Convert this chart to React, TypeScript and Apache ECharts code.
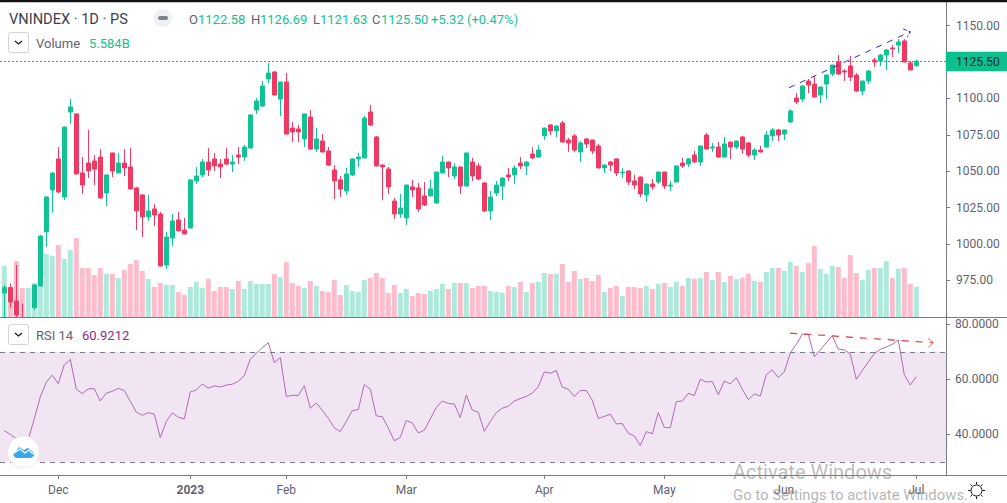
import React, { useEffect, useRef } from "react";
import * as echarts from "echarts";

const opens = [966.4,970.1,960.9,949,943,956.3,971.2,1008.3,1037.1,1058.4,
1032.3,1090.6,1089.3,1048.8,1055.6,1057.0,1059.7,1035.0,1062.5,1048.8,
1055.6,1052.9,1038.5,1033.7,1018.6,1024.1,1020.6,985.6,1004.1,1016.5,
1009.6,1011.0,1043.3,1047.4,1056.3,1058.4,1054.9,1058.4,1054.9,1061.1,
1059.7,1065.9,1092.0,1094.7,1113.3,1118.1,1099.5,1111.2,1079.6,1079.0,
1072.1,1087.2,1065.2,1070.7,1063.9,1050.8,1044.0,1036.4,1047.4,1058.4,
1059.1,1090.6,1073.5,1054.2,1051.5,1029.5,1020.6,1017.9,1039.2,1038.5,
1033.0,1033.0,1028.2,1048.8,1056.3,1046.7,1052.9,1039.8,1056.3,1053.6,
1041.9,1022.7,1035.0,1039.8,1047.4,1047.4,1055.6,1053.6,1061.8,1059.7,
1074.2,1081.7,1077.6,1083.1,1071.4,1074.2,1063.2,1072.1,1071.4,1067.3,
1052.2,1056.3,1058.4,1048.8,1050.1,1043.3,1046.0,1033.7,1041.2,1042.6,
1049.4,1039.8,1042.6,1055.6,1054.9,1061.1,1056.3,1074.8,1065.9,1066.6,
1059.7,1070.0,1066.6,1073.5,1069.4,1061.1,1064.5,1066.6,1074.2,1078.3,
1075.5,1083.8,1100.2,1099.5,1111.9,1109.8,1102.3,1109.8,1116.7,1124.9,
1118.8,1122.2,1116.0,1105.0,1111.9,1126.3,1125.6,1129.7,1134.6,1136.6,
1139.4,1124.3,1122.58];
const closes = [970.1,960.2,951.3,945,946,971.9,1005.5,1032.3,1048.8,1035.7,
1080.3,1094.1,1048.1,1040.5,1050.1,1051.5,1031.6,1047.4,1050.1,1055.6,
1052.2,1037.8,1022.7,1018.6,1022.7,1019.9,984.9,1004.8,1015.8,1009.0,
1006.9,1044.0,1046.7,1056.3,1050.8,1053.6,1052.9,1054.9,1056.3,1059.7,
1066.6,1088.6,1098.2,1108.5,1117.4,1102.3,1111.2,1075.5,1076.9,1076.9,
1089.3,1065.2,1072.1,1063.2,1054.2,1043.3,1037.8,1048.1,1058.4,1059.7,
1086.5,1081.7,1053.6,1052.9,1039.2,1020.6,1024.7,1040.5,1037.1,1024.1,
1026.8,1037.8,1049.4,1056.3,1052.2,1052.9,1039.8,1062.5,1046.7,1044.6,
1022.7,1032.3,1040.5,1045.3,1046.0,1052.2,1053.6,1056.3,1059.1,1064.5,
1079.6,1077.6,1081.0,1070.0,1069.4,1064.5,1069.4,1068.7,1063.9,1052.2,
1054.2,1054.2,1048.8,1049.4,1042.6,1040.5,1034.4,1041.2,1039.2,1049.4,
1039.8,1040.5,1053.6,1053.6,1058.4,1056.3,1067.3,1065.2,1066.6,1059.7,
1068.7,1066.6,1070.7,1065.2,1061.1,1064.5,1063.2,1074.8,1078.3,1074.8,
1078.3,1091.3,1097.5,1108.5,1109.2,1100.9,1107.8,1116.0,1122.9,1116.7,
1118.1,1114.6,1105.0,1111.9,1118.8,1124.9,1129.7,1133.2,1133.9,1138.7,
1124.9,1119.5,1125.50];
const highs = [971.9,973.0,985.6,958.9,949,972.4,1006.2,1032.7,1049.2,1066.6,
1080.6,1099.5,1089.7,1059.7,1078.3,1061.1,1065.2,1047.7,1062.8,1062.5,
1065.2,1065.9,1039.2,1034,1033.7,1027.5,1022.0,1008.3,1020.6,1022.0,
1017.9,1044.3,1052.9,1058.4,1065.9,1062.5,1058.4,1065.9,1061.1,1066.6,
1068.0,1088.9,1100.2,1111.9,1124.3,1118.8,1111.5,1117.4,1083.8,1081.7,
1089.6,1092.0,1079.6,1075.5,1066.6,1054.2,1046.7,1052.2,1058.7,1062.5,
1087.9,1095.4,1074.2,1054.9,1052.9,1031.6,1034.4,1040.8,1044.0,1041.9,
1042.6,1044.0,1049.7,1060.4,1056.6,1055.6,1053.2,1062.8,1059.1,1055.6,
1042.6,1036.4,1043.3,1045.6,1052.2,1054.2,1059.7,1056.6,1066.6,1068.0,
1079.9,1082.4,1081.3,1084.5,1072.8,1075.5,1070.7,1072.8,1071.7,1068.7,
1054.9,1057.0,1058.7,1052.2,1050.8,1047.4,1046.3,1041.5,1044.6,1049.7,
1049.7,1043.3,1053.9,1059.1,1059.1,1063.9,1067.6,1076.2,1069.4,1070.0,
1073.5,1070.3,1071.0,1074.2,1070.0,1065.9,1067.3,1077.6,1079.6,1079.0,
1078.6,1092.7,1103.7,1108.8,1113.3,1115.3,1108.1,1116.3,1123.2,1129.7,
1120.1,1129.1,1117.4,1112.2,1119.1,1127.7,1130.4,1133.9,1136.6,1140.7,
1140.7,1125.6,1126.69];
const lows = [945,956.3,948,942,941,954.7,970.9,998.2,1021.5,1035.0,
1030.2,1082.4,1047.8,1034.4,1045.3,1040.5,1031.3,1026.1,1046.0,1048.5,
1046.7,1037.5,1009.6,1004.8,1015.8,1012.4,984.6,982.9,998.7,1008.7,
1006.6,1010.7,1041.2,1046.0,1046.7,1050.1,1045.3,1054.2,1049.4,1054.9,
1057.0,1065.6,1089.3,1094.1,1110.5,1102.0,1087.9,1075.2,1070.0,1070.0,
1066.6,1064.5,1063.2,1062.9,1053.6,1030.9,1032.3,1033.7,1046.7,1052.9,
1058.8,1081.0,1053.3,1030.2,1034.4,1017.2,1017.9,1013.1,1032.3,1022.0,
1026.1,1032.7,1027.5,1048.5,1046.0,1044.6,1034.4,1039.5,1043.3,1044.0,
1022.0,1016.5,1033.0,1030.2,1043.3,1041.2,1051.5,1047.4,1058.4,1059.1,
1071.4,1074.8,1073.5,1069.7,1063.2,1063.2,1056.3,1065.9,1061.8,1051.9,
1048.8,1050.1,1046.7,1045.3,1040.5,1037.8,1032.3,1028.9,1037.1,1041.2,
1037.8,1036.4,1042.3,1052.2,1052.9,1056.0,1053.6,1064.9,1063.2,1059.4,
1059.4,1058.4,1065.2,1061.8,1059.7,1057.7,1062.9,1066.3,1070.7,1070.7,
1071.4,1083.1,1096.1,1097.5,1103.7,1100.6,1096.8,1099.5,1115.3,1116.4,
1111.9,1111.9,1104.4,1102.3,1109.8,1121.5,1122.2,1119.5,1128.4,1131.1,
1124.6,1119.2,1121.63];
const volumes = [9.38,5.33,10.3,5.33,5.33,6.25,5.7,11.59,11.22,13.24,
10.67,12.32,14.53,9.01,9.01,7.72,9.01,7.91,7.91,7.17,
8.64,9.75,10.48,8.46,6.99,5.52,6.25,5.88,5.88,4.6,
4.05,5.52,6.44,5.33,6.99,4.78,5.52,5.52,5.15,6.62,
5.15,6.62,6.07,6.07,6.07,7.91,7.36,10.11,6.25,5.7,
5.33,6.62,5.7,4.78,4.6,6.8,4.05,5.88,4.78,4.6,
6.8,7.17,8.09,7.17,4.41,5.88,4.41,5.15,3.86,4.41,
4.23,4.78,5.15,6.07,5.15,6.25,6.25,6.25,5.33,5.7,
5.7,4.78,4.6,4.41,5.7,5.52,6.44,4.6,6.25,6.44,
8.09,7.91,7.91,9.75,6.44,8.46,6.99,7.17,6.62,7.72,
4.6,5.33,5.7,3.86,5.52,5.52,5.33,5.7,5.15,6.07,
6.25,5.52,6.44,5.7,7.17,6.99,7.17,8.28,6.8,8.28,
6.44,7.54,6.99,7.17,7.91,6.62,6.44,8.28,9.01,9.01,
8.46,10.11,9.38,8.28,9.93,13.06,8.83,7.91,9.38,9.2,
7.17,11.4,8.09,6.8,8.64,9.01,9.01,10.3,7.17,8.83,
9.01,6.07,5.584];
const rsi = [41.3,40.0,38.4,37.8,38.2,45.7,53.6,59.0,61.5,58.4,
65.3,67.2,56.4,54.8,56.5,56.6,52.1,55.0,55.6,56.7,
55.9,52.0,48.1,46.9,47.9,47.3,38.8,44.7,47.8,46.2,
45.6,55.4,56.1,58.3,56.8,57.6,57.2,57.9,58.2,59.3,
61.3,67.3,69.5,71.5,73.3,66.1,67.9,53.7,54.2,54.1,
57.7,49.5,51.4,48.7,45.8,42.4,41.0,44.7,48.6,49.0,
58.1,56.4,46.7,46.4,42.3,37.6,38.9,45.0,44.1,40.5,
41.5,45.6,49.8,52.1,51.2,51.0,46.1,54.3,48.8,48.0,
41.1,44.7,47.9,49.5,50.2,52.1,53.0,53.8,55.0,57.3,
62.7,62.2,63.2,57.1,56.4,53.8,55.9,55.9,52.4,45.8,
46.5,47.3,43.8,43.9,40.4,39.4,35.9,41.0,40.2,47.9,
42.5,42.4,51.9,52.1,54.9,54.1,60.0,59.0,59.2,54.4,
59.4,58.3,60.6,56.4,52.6,54.7,53.9,61.7,63.4,60.6,
62.7,69.6,72.7,76.4,76.4,68.2,70.7,73.3,75.8,71.0,
70.7,69.2,60.0,63.2,66.3,69.3,70.9,71.8,72.7,74.3,
61.7,57.9,60.9212];

const monthTicks = [9, 31, 47, 67, 90, 110, 130, 152];
const monthLabels = ["Dec", "2023", "Feb", "Mar", "Apr", "May", "Jun", "Jul"];
const priceTicks = [975, 1000, 1025, 1050, 1075, 1100, 1125.5, 1150];
const rsiTicks = [40, 60, 80];

const priceTrendX = [130.8, 151];
const priceTrendY = [1107.3, 1145.7];
const priceHeadX = [149.8, 151, 150.5];
const priceHeadY = [1147.6, 1145.7, 1141.9];
const rsiTrendX = [130.95, 154.83];
const rsiTrendY = [76.8, 73.3];
const rsiHeadX = [154, 154.83, 154];
const rsiHeadY = [75.0, 73.3, 71.6];

const UP = "#12c295";
const DOWN = "#ee3a63";
const UP_VOL = "#aeeadb";
const DOWN_VOL = "#fbbccb";
const AXIS = "#787b86";
const TXT = "#5f6270";
const FONT = "Roboto";
const XMIN = -0.717;
const XMAX = 156.95;

const zip = (a: number[], b: number[]) => a.map((v, i) => [v, b[i]]);

export default function App() {
  const ref = useRef<HTMLDivElement>(null);
  useEffect(() => {
    document.body.style.margin = "0";
    const chart = echarts.init(ref.current!, null, { renderer: "svg" });
    const text = (t: string, x: number, y: number, fill: string, size = 13, extra: any = {}) => ({
      type: "text",
      z: 30,
      silent: true,
      style: { text: t, x, y, fill, font: `${size}px ${FONT}`, verticalAlign: "middle", ...extra },
    });
    const hline = (x1: number, y1: number, x2: number, y2: number, stroke = AXIS, lineWidth = 1) => ({
      type: "line",
      z: 15,
      silent: true,
      shape: { x1, y1, x2, y2 },
      style: { stroke, lineWidth },
    });
    const block = (x: number, y: number, width: number, height: number, fill: string, z: number) => ({
      type: "polygon",
      z,
      silent: true,
      shape: { points: [[x, y], [x + width, y], [x + width, y + height], [x, y + height]] },
      style: { fill, stroke: fill, lineWidth: 0.5 },
    });
    const gear: any[] = [];
    for (let a = 0; a < 8; a++) {
      const t = (a * Math.PI) / 4;
      gear.push(hline(976.5 + 6 * Math.cos(t), 490.5 + 6 * Math.sin(t), 976.5 + 8.5 * Math.cos(t), 490.5 + 8.5 * Math.sin(t), "#131722", 1));
    }
    const chevron = (x: number, y: number) => ({
      type: "polyline",
      z: 25,
      silent: true,
      shape: { points: [[x - 3.5, y - 1.5], [x, y + 1.5], [x + 3.5, y - 1.5]] },
      style: { stroke: "#131722", lineWidth: 1.2, fill: "none" },
    });
    const box = (x: number, y: number) => ({
      type: "rect",
      z: 20,
      silent: true,
      shape: { x, y, width: 20, height: 20, r: 2 },
      style: { stroke: "#d1d4dc", fill: "#fff", lineWidth: 1 },
    });
    const option: any = {
      animation: false,
      backgroundColor: "#fff",
      grid: [
        { left: 0, top: 6, width: 946, height: 311 },
        { left: 0, top: 217, width: 946, height: 100 },
        { left: 0, top: 319, width: 946, height: 156 },
      ],
      xAxis: [0, 1].map((g) => ({
        type: "value", gridIndex: g, min: XMIN, max: XMAX, show: false,
      })).concat([{
        type: "value", gridIndex: 2, min: XMIN, max: XMAX, splitLine: { show: false },
        axisLine: { show: false, onZero: false },
        axisTick: { show: true, length: 4, lineStyle: { color: AXIS }, customValues: monthTicks },
        axisLabel: {
          customValues: monthTicks, margin: 9, color: TXT, fontFamily: FONT, fontSize: 12,
          formatter: (v: number) => {
            const s = monthLabels[monthTicks.indexOf(v)] ?? "";
            return s === "2023" ? `{b|${s}}` : s;
          },
          rich: { b: { fontWeight: "bold", fontFamily: FONT, fontSize: 12, color: TXT } },
        },
      } as any]),
      yAxis: [
        {
          type: "value", gridIndex: 0, position: "right", min: 949.9, max: 1163.4, splitLine: { show: false },
          axisLine: { show: false, onZero: false },
          axisTick: { show: true, length: 4, lineStyle: { color: AXIS }, customValues: priceTicks },
          axisLabel: {
            customValues: priceTicks.filter((v) => v !== 1125.5), margin: 10, color: TXT, fontFamily: FONT, fontSize: 12,
            formatter: (v: number) => v.toFixed(2),
          },
        },
        { type: "value", gridIndex: 1, min: 0, max: 18.4, show: false, axisLine: { onZero: false } },
        {
          type: "value", gridIndex: 2, position: "right", min: 25.2, max: 81.93, splitLine: { show: false },
          axisLine: { show: false, onZero: false },
          axisTick: { show: true, length: 4, lineStyle: { color: AXIS }, customValues: rsiTicks },
          axisLabel: {
            customValues: rsiTicks, margin: 9, color: TXT, fontFamily: FONT, fontSize: 12,
            formatter: (v: number) => v.toFixed(4),
          },
        },
      ],
      series: [
        {
          type: "bar", xAxisIndex: 1, yAxisIndex: 1, barWidth: 5, z: 1, silent: true,
          data: volumes.map((v, i) => ({
            value: [i, v],
            itemStyle: { color: closes[i] >= opens[i] ? UP_VOL : DOWN_VOL },
          })),
        },
        {
          type: "candlestick", xAxisIndex: 0, yAxisIndex: 0, barWidth: 5, z: 3, silent: true, clip: true,
          itemStyle: { color: UP, color0: DOWN, borderColor: UP, borderColor0: DOWN, borderWidth: 1 },
          data: opens.map((o, i) => [i, o, closes[i], lows[i], highs[i]]),
          markLine: {
            silent: true, symbol: "none", label: { show: false },
            lineStyle: { color: "#0db39a", type: [2, 2], width: 1 },
            data: [{ yAxis: closes[152] }],
          },
        },
        {
          type: "line", xAxisIndex: 0, yAxisIndex: 0, z: 4, silent: true, symbol: "none",
          lineStyle: { color: "#2a2ae0", width: 1, type: [6, 6] }, data: zip(priceTrendX, priceTrendY),
        },
        {
          type: "line", xAxisIndex: 0, yAxisIndex: 0, z: 4, silent: true, symbol: "none",
          lineStyle: { color: "#2a2ae0", width: 1, type: [4, 2] }, data: zip(priceHeadX, priceHeadY),
        },
        {
          type: "line", xAxisIndex: 2, yAxisIndex: 2, z: 3, silent: true, symbol: "none",
          lineStyle: { color: "#ad6db0", width: 1 }, data: rsi.map((v, i) => [i, v]),
          markArea: {
            silent: true, itemStyle: { color: "#f1e4f3" },
            data: [[{ yAxis: 70 }, { yAxis: 30 }]],
          },
          markLine: {
            silent: true, symbol: "none", label: { show: false },
            lineStyle: { color: AXIS, type: [5, 5], width: 1 },
            data: [{ yAxis: 70 }, { yAxis: 30 }],
          },
        },
        {
          type: "line", xAxisIndex: 2, yAxisIndex: 2, z: 4, silent: true, symbol: "none",
          lineStyle: { color: "#e53935", width: 1.2, type: [7, 7] }, data: zip(rsiTrendX, rsiTrendY),
        },
        {
          type: "line", xAxisIndex: 2, yAxisIndex: 2, z: 4, silent: true, symbol: "none",
          lineStyle: { color: "#ef6a66", width: 1 }, data: zip(rsiHeadX, rsiHeadY),
        },
      ],
      graphic: [
        block(0, 318, 946, 14, "#fff", 14),
        block(0, 0, 1007, 2, "#131313", 22),
        hline(0, 317.5, 1007, 317.5),
        hline(0, 475.5, 1007, 475.5),
        hline(946.5, 2, 946.5, 475),
        text("VNINDEX · 1D · PS", 9, 19, "#3d404c", 14.6),
        { type: "circle", z: 20, silent: true, shape: { cx: 163, cy: 18, r: 9 }, style: { fill: "#eef0f4" } },
        { type: "rect", z: 21, silent: true, shape: { x: 158, y: 16, width: 10, height: 4, r: 2 }, style: { fill: "#7d808a" } },
        text("O", 189, 19, TXT),
        text("1122.58", 198, 19, UP),
        text("H", 251, 19, TXT),
        text("1126.69", 260, 19, UP),
        text("L", 313, 19, TXT),
        text("1121.63", 320, 19, UP),
        text("C", 372, 19, TXT),
        text("1125.50", 381, 19, UP),
        text("+5.32 (+0.47%)", 431, 19, UP),
        box(8.5, 32.5),
        chevron(18.5, 42.5),
        text("Volume", 36, 43, "#5f6270"),
        text("5.584B", 89, 43, UP),
        box(8.5, 324.5),
        chevron(18.5, 334.5),
        text("RSI 14", 36, 335, "#5f6270"),
        text("60.9212", 82, 335, "#8e2a8e"),
        block(946, 52, 61, 19, "#0cc08f", 22),
        text("1125.50", 956, 62, "#1b2a2a", 12),
        { type: "circle", z: 20, silent: true, shape: { cx: 23.5, cy: 452, r: 16 }, style: { fill: "#fff", stroke: "#e6e8ee", lineWidth: 1 } },
        {
          type: "polygon", z: 21, silent: true,
          shape: { points: [[13, 455], [19, 447], [24, 450], [28, 448], [33, 452], [34, 456], [31, 458], [16, 458]] },
          style: { fill: "#39a6ee" },
        },
        {
          type: "polyline", z: 22, silent: true,
          shape: { points: [[14, 453], [20, 449], [25, 453], [29, 450], [33, 454]] },
          style: { stroke: "#fff", lineWidth: 1.2, fill: "none" },
        },
        text("Activate Windows", 733, 472, "rgba(130,130,130,0.55)", 20),
        text("Go to Settings to activate Windows.", 733, 495, "rgba(130,130,130,0.6)", 14.9),
        { type: "circle", z: 20, silent: true, shape: { cx: 976.5, cy: 490.5, r: 5.5 }, style: { fill: "#fff", stroke: "#131722", lineWidth: 1 } },
        ...gear,
      ],
    };
    chart.setOption(option);
    return () => chart.dispose();
  }, []);
  return <div ref={ref} style={{ position: "absolute", left: 0, top: 0, width: 1007, height: 503 }} />;
}
